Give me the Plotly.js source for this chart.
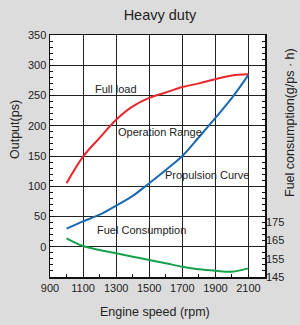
<!DOCTYPE html>
<html>
<head>
<meta charset="utf-8">
<script src="https://cdn.plot.ly/plotly-3.0.1.min.js"></script>
<style>html,body{margin:0;padding:0;background:#dcdcdc;}#chart{width:300px;height:325px;}</style>
</head>
<body>
<div id="chart"></div>
<script>
const rpm = [1000, 1100, 1200, 1300, 1400, 1500, 1600, 1700, 1800, 1900, 2000, 2100];
const fullLoad = [105, 149, 180, 210, 232, 246, 255, 264, 270, 277, 283, 285];
const propulsion = [30, 42, 53, 68, 84, 105, 127, 150, 181, 213, 246, 284];
const fuelConsumption = [166.1, 161.9, 159.7, 157.9, 156.1, 154.3, 152.5, 150.6, 149.2, 148.4, 147.9, 149.7];
const xTicks = [900, 1100, 1300, 1500, 1700, 1900, 2100];
const yTicks = [0, 50, 100, 150, 200, 250, 300, 350];
const fuelTicks = [145, 155, 165, 175];

const font = 'Liberation Sans, Arial, sans-serif';
const traces = [
  {x: rpm, y: fullLoad, mode: 'lines', line: {color: '#e8262c', width: 2, shape: 'spline'}, hoverinfo: 'none'},
  {x: rpm, y: propulsion, mode: 'lines', line: {color: '#1a68b0', width: 2, shape: 'spline'}, hoverinfo: 'none'},
  {x: rpm, y: fuelConsumption, yaxis: 'y2', mode: 'lines', line: {color: '#17a04c', width: 2, shape: 'spline'}, hoverinfo: 'none'}
];
const ann = (text, x, y, xref, yref, size, angle) => ({
  text: text, x: x, y: y, xref: xref, yref: yref, showarrow: false,
  xanchor: 'center', yanchor: 'middle', textangle: angle || 0,
  font: {size: size, color: '#222', family: font}
});
const pw = 300 - 50 - 35, ph = 325 - 35 - 48;
function px(xp) { return (xp - 50) / pw; }
function py(yp) { return (325 - 48 - yp) / ph; }
const layout = {
  width: 300, height: 325,
  margin: {l: 50, r: 35, t: 35, b: 48},
  paper_bgcolor: '#dcdcdc', plot_bgcolor: '#ffffff',
  showlegend: false,
  font: {family: font, size: 11, color: '#222'},
  title: {text: 'Heavy duty', font: {size: 14.5, color: '#222', family: font}, x: 0.533, xanchor: 'center', y: 0.955, yanchor: 'middle'},
  xaxis: {
    range: [900, 2200], tickvals: xTicks, ticktext: xTicks.map(String),
    showgrid: true, gridcolor: '#222', gridwidth: 1,
    showline: true, linecolor: '#111', linewidth: 1.5, mirror: true,
    ticks: 'inside', ticklen: 3, tickcolor: '#111',
    minor: {dtick: 100, tick0: 900, ticks: 'inside', ticklen: 3, tickcolor: '#111', showgrid: false},
    zeroline: false, tickfont: {size: 11, color: '#222'}
  },
  yaxis: {
    range: [-50, 350], tickvals: yTicks, ticktext: yTicks.map(String),
    showgrid: true, gridcolor: '#222', gridwidth: 1,
    showline: true, linecolor: '#111', linewidth: 1.5, mirror: 'allticks',
    ticks: 'inside', ticklen: 4, tickcolor: '#111',
    minor: {dtick: 10, tick0: 0, ticks: 'inside', ticklen: 3, tickcolor: '#111', showgrid: false},
    zeroline: false, tickfont: {size: 11, color: '#222'}
  },
  yaxis2: {
    overlaying: 'y', side: 'right', range: [145, 277],
    tickvals: fuelTicks, ticktext: fuelTicks.map(String),
    showgrid: false, showline: false, ticks: '', zeroline: false,
    tickfont: {size: 11, color: '#222'}
  },
  annotations: [
    ann('Full load', 1300, 261, 'x', 'y', 11),
    ann('Operation Range', 1565, 189, 'x', 'y', 11),
    ann('Propulsion Curve', 1850, 118, 'x', 'y', 11),
    ann('Fuel Consumption', 1456, 28, 'x', 'y', 11),
    ann('Engine speed (rpm)', px(155), py(312), 'paper', 'paper', 12.5),
    ann('Output(ps)', px(15), py(130), 'paper', 'paper', 12.5, -90),
    ann('Fuel consumption(g/ps · h)', px(290), py(123), 'paper', 'paper', 12.5, -90)
  ]
};
Plotly.newPlot('chart', traces, layout, {displayModeBar: false, staticPlot: true});
</script>
</body>
</html>
